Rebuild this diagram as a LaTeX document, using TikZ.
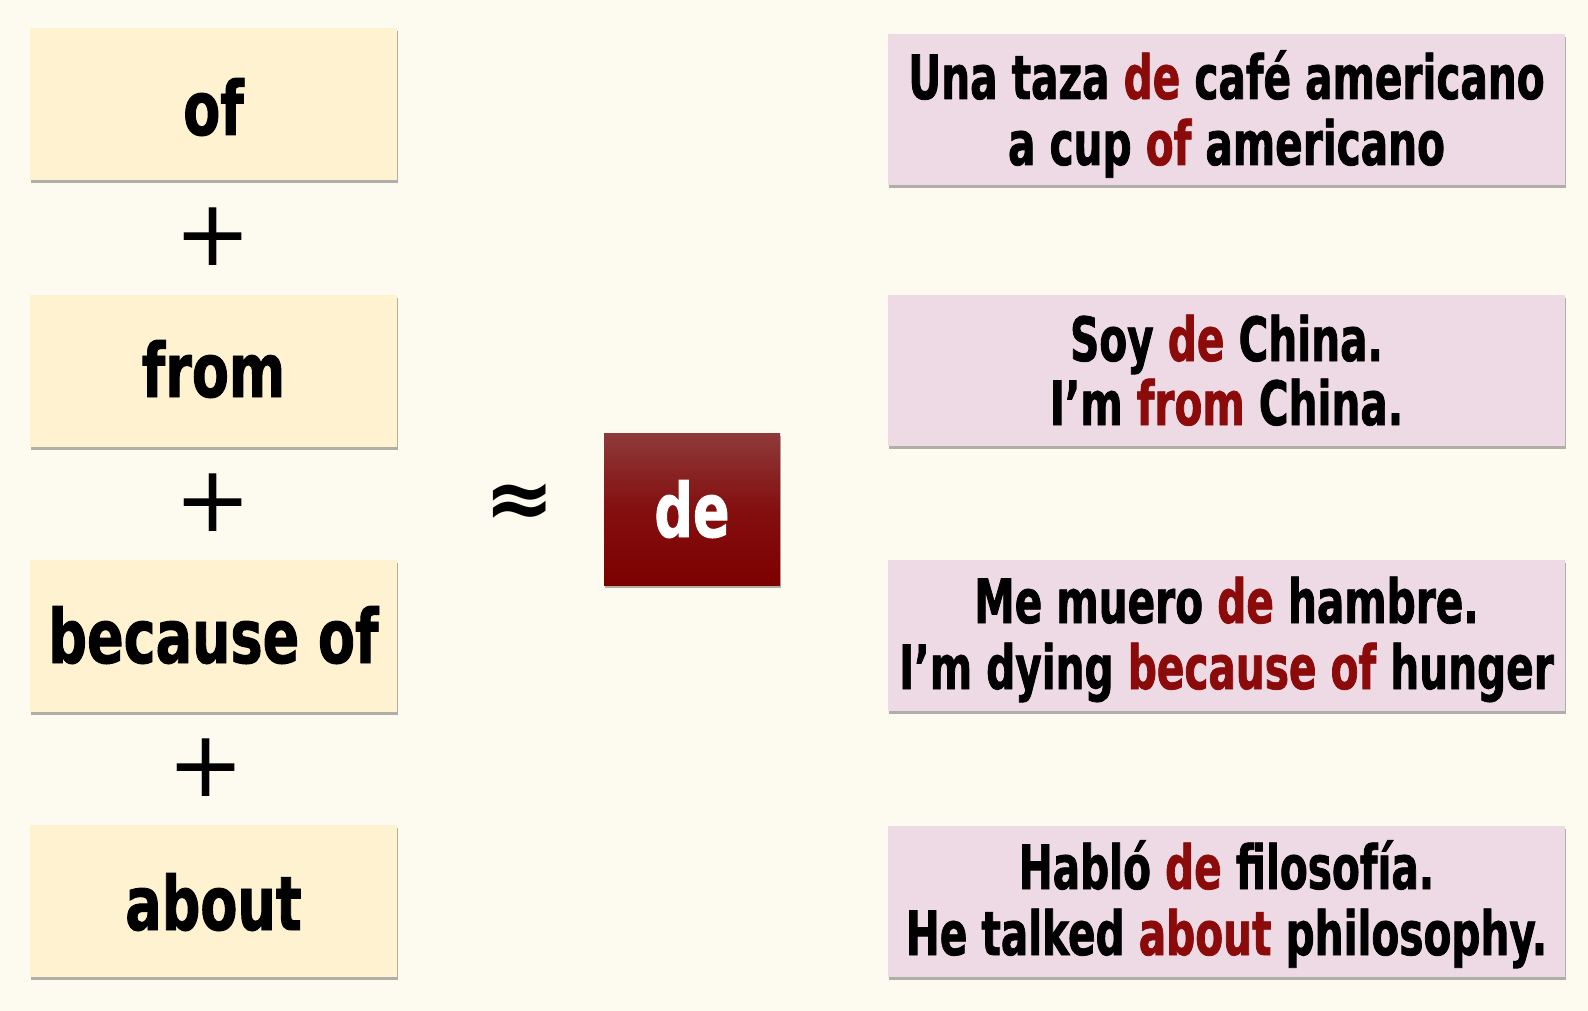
\documentclass[tikz,border=0pt]{standalone}
\usepackage{fontspec}
\usetikzlibrary{shadows}
\newfontfamily\imp{DejaVu Sans Condensed Bold}[FakeStretch=0.8,FakeBold=1.2]
\newfontfamily\impr{DejaVu Sans Condensed Bold}[FakeStretch=0.74,FakeBold=1.2]
\newfontfamily\djv{DejaVu Sans}
\newfontfamily\djvb{DejaVu Sans Bold}
\definecolor{bgc}{HTML}{FDFBF0}
\definecolor{leftfill}{HTML}{FEF2D0}
\definecolor{rightfill}{HTML}{EDDAE4}
\definecolor{redtxt}{HTML}{8B0A0A}
\definecolor{detop}{HTML}{8E3A3A}
\definecolor{demid}{HTML}{840F0F}
\definecolor{debot}{HTML}{7D0000}
\newcommand{\rd}[1]{\textcolor{redtxt}{#1}}
\tikzset{
  boxshadow/.style={drop shadow={shadow xshift=0.8pt,shadow yshift=-3pt,fill=black,opacity=0.3}},
  leftbox/.style={boxshadow,fill=leftfill,draw=none,minimum width=367pt,minimum height=152pt,inner sep=0pt},
  rightbox/.style={boxshadow,fill=rightfill,draw=none,minimum width=677pt,minimum height=151pt,inner sep=0pt},
  debox/.style={boxshadow,top color=detop,bottom color=debot,middle color=demid,draw=none,minimum width=176pt,minimum height=152pt,inner sep=0pt},
  lword/.style={anchor=base,inner sep=0pt,font=\imp\fontsize{75}{80}\selectfont},
  rline/.style={anchor=base,inner sep=0pt,font=\impr\fontsize{61}{66}\selectfont},
  plussign/.style={inner sep=0pt,font=\djv\fontsize{92}{92}\selectfont},
}
\begin{document}
\begin{tikzpicture}[x=1pt,y=-1pt]
\fill[bgc] (0,0) rectangle (1588,1011);
\useasboundingbox (0,0) rectangle (1588,1011);
% left column
\node[leftbox] (b1) at (213.5,104) {};
\node[leftbox] (b2) at (213.5,370.5) {};
\node[leftbox] (b3) at (213.5,635.5) {};
\node[leftbox] (b4) at (213.5,901) {};
\node[lword] (w1) at (213.5,135) {of};
\node[lword] (w2) at (213.5,397) {from};
\node[lword] (w3) at (213.5,663) {because of};
\node[lword] (w4) at (213.5,930) {about};
\node[plussign] (p1) at (213,237) {+};
\node[plussign] (p2) at (213,503) {+};
\node[plussign] (p3) at (206,768) {+};
% approx and de
\node[inner sep=0pt,font=\djvb\fontsize{84}{84}\selectfont] (ap) at (520,506) {≈};
\node[debox] (de) at (692,509) {};
\node[anchor=base,inner sep=0pt,text=white,font=\imp\fontsize{75}{80}\selectfont] (detext) at (692,537) {de};
% right column
\node[rightbox] (r1) at (1226.5,109.5) {};
\node[rightbox] (r2) at (1226.5,370.5) {};
\node[rightbox] (r3) at (1226.5,635.5) {};
\node[rightbox] (r4) at (1226.5,901) {};
\node[rline] (r1a) at (1226.5,99) {Una taza \rd{de} café americano};
\node[rline] (r1b) at (1226.5,165) {a cup \rd{of} americano};
\node[rline] (r2a) at (1226.5,361) {Soy \rd{de} China.};
\node[rline] (r2b) at (1226.5,425) {I’m \rd{from} China.};
\node[rline] (r3a) at (1226.5,623) {Me muero \rd{de} hambre.};
\node[rline] (r3b) at (1226.5,689) {I’m dying \rd{because of} hunger};
\node[rline] (r4a) at (1226.5,889) {Habló \rd{de} filosofía.};
\node[rline] (r4b) at (1226.5,955) {He talked \rd{about} philosophy.};
\end{tikzpicture}
\end{document}
